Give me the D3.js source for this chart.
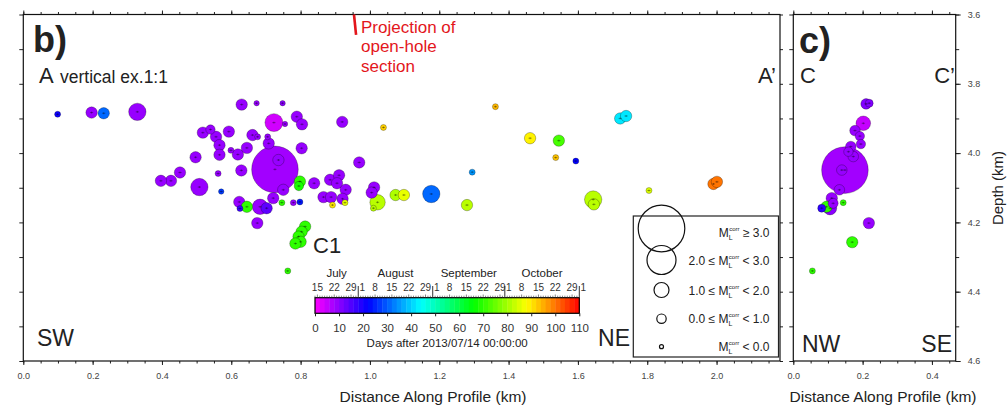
<!DOCTYPE html>
<html lang="en">
<head>
<meta charset="UTF-8">
<title>Hypocentre cross sections</title>
<script src="https://d3js.org/d3.v7.min.js"></script>
<style>
  body { margin: 0; background: #fff; }
  svg text { font-family: "Liberation Sans", Arial, sans-serif; }
  .frame { fill: none; stroke: #111; stroke-width: 1.2; }
  .axis path { display: none; }
  .axis line { stroke: #222; }
  .axis text { font-size: 9px; fill: #444; font-family: "Liberation Sans", Arial, sans-serif; }
  .cbaxis path { display: none; }
  .cbaxis line { stroke: #222; }
  .cbaxis text { font-size: 11.5px; fill: #333; font-family: "Liberation Sans", Arial, sans-serif; }
  .ev { stroke: rgba(0,0,0,0.45); stroke-width: 0.6; }
  .err { stroke: rgba(0,0,0,0.55); stroke-width: 0.6; fill: none; }
  .lbl { fill: #222; }
</style>
</head>
<body>
<svg id="chart" width="1007" height="406"></svg>
<script>
// ---- panel b) A-A' profile: distance (km), depth (km), days since 2013/07/14, magnitude
const distB = [0.099, 0.197, 0.232, 0.329, 0.630, 0.673, 0.748, 0.723, 0.755, 0.789,
  0.804, 0.518, 0.540, 0.556, 0.566, 0.566, 0.593, 0.599, 0.619, 0.645,
  0.661, 0.676, 0.705, 0.708, 0.497, 0.629, 0.562, 0.452, 0.426, 0.397,
  0.508, 0.571, 0.726, 0.736, 0.750, 0.803, 0.798, 0.795, 0.839, 0.920,
  0.969, 1.039, 0.885, 0.911, 0.905, 0.930, 0.866, 0.888, 0.921, 0.892,
  0.928, 1.012, 1.005, 1.022, 1.010, 1.074, 1.098, 1.177, 1.295, 1.280,
  1.362, 1.462, 1.545, 1.536, 1.594, 1.644, 1.646, 1.722, 1.739, 1.805,
  1.991, 2.001, 0.623, 0.625, 0.645, 0.683, 0.702, 0.721, 0.746, 0.779,
  0.798, 0.675, 0.813, 0.803, 0.794, 0.800, 0.785, 0.763];
const depthB = [3.888, 3.883, 3.885, 3.881, 3.860, 3.856, 3.856, 3.912, 3.916, 3.895,
  3.917, 3.941, 3.932, 3.953, 3.977, 4.005, 3.938, 3.992, 4.004, 3.985,
  3.948, 3.953, 3.953, 3.972, 4.012, 4.050, 4.059, 4.056, 4.080, 4.080,
  4.098, 4.111, 4.047, 4.020, 4.106, 3.986, 4.082, 4.095, 4.087, 3.910,
  4.027, 3.926, 4.077, 4.064, 4.087, 4.106, 4.127, 4.127, 4.132, 4.150,
  4.143, 4.099, 4.114, 4.142, 4.159, 4.121, 4.121, 4.118, 4.055, 4.150,
  3.866, 3.957, 3.964, 4.013, 4.023, 4.134, 4.148, 3.900, 3.893, 4.108,
  4.089, 4.083, 4.141, 4.160, 4.155, 4.155, 4.159, 4.130, 4.143, 4.143,
  4.141, 4.202, 4.212, 4.227, 4.241, 4.256, 4.261, 4.340];
const daysB = [21, 9, 31, 9, 9, 9, 10, 4, 9, 9,
  9, 9, 9, 9, 9, 9, 9, 9, 9, 9,
  9, 9, 9, 9, 9, 9, 9, 9, 9, 9,
  9, 27, 8, 9, 9, 9, 70, 68, 9, 9,
  9, 92, 9, 9, 9, 9, 9, 9, 9, 90,
  86, 9, 9, 82, 82, 81, 86, 31, 35, 82,
  94, 89, 72, 93, 22, 82, 82, 42, 42, 85,
  100, 100, 9, 17, 70, 9, 14, 9, 70, 9,
  24, 9, 70, 70, 70, 70, 70, 70];
const magB = [-0.13, 0.86, 0.86, 1.67, 0.86, -0.24, -0.24, 1.71, -0.24, 0.86,
  0.86, 0.86, 0.5, 0.86, 0.86, 0.86, 0.86, -0.13, 0.86, 0.86,
  0.86, -0.13, -0.13, 0.86, 0.86, 0.86, -0.13, 0.86, 0.86, 0.86,
  1.67, -0.24, 3.3, 0.86, 0.86, 0.86, 0.86, 0.5, 0.86, 0.86,
  0.86, -0.13, 0.86, 0.86, 0.86, 0.86, 0.86, 0.86, 0.86, -0.13,
  -0.13, 0.86, 0.86, 1.53, -0.13, 0.86, 0.86, 1.67, -0.13, 0.86,
  -0.13, 0.86, 0.86, -0.13, -0.13, 1.67, 0.86, 0.86, 0.86, -0.13,
  0.86, 0.86, 0.86, -0.13, 0.86, 1.53, 0.86, 0.86, -0.13, -0.13,
  -0.13, 0.86, 0.86, 0.86, 0.86, 0.86, 0.86, -0.13];

// ---- panel c) C-C' profile
const distC = [0.210, 0.219, 0.202, 0.178, 0.192, 0.195, 0.166, 0.159, 0.173, 0.149,
  0.140, 0.133, 0.111, 0.096, 0.082, 0.106, 0.115, 0.144, 0.218, 0.170, 0.055];
const depthC = [3.858, 3.856, 3.914, 3.935, 3.951, 3.974, 3.981, 3.996, 4.010, 4.049,
  4.049, 4.106, 4.130, 4.155, 4.159, 4.159, 4.145, 4.143, 4.202, 4.257, 4.340];
const daysC = [11, 11, 5, 9, 9, 9, 9, 9, 9, 8,
  9, 9, 9, 70, 18, 10, 9, 70, 9, 70, 70];
const magC = [0.71, 0.24, 1.43, 0.71, 0.5, 0.5, 0.71, 0.5, 0.71, 3.3,
  0.71, 0.71, 0.86, 0.86, 0.24, 1.21, 0.61, -0.13, 0.86, 0.86, -0.13];

// projection of the open-hole section onto A-A'
const openHoleDist = [0.954, 0.960];
const openHoleDepth = [3.6, 3.659];

// colour bar / legend
const cbDays = [0, 110];
const cbTicks = [0, 10, 20, 30, 40, 50, 60, 70, 80, 90, 100, 110];
const monthNames = ["July", "August", "September", "October"];
const dayOfMonthLabels = [1, 8, 15, 22, 29];
const legendMags = [3.3, 2.5, 1.5, 0.5, -0.5];
const legendText = [["", " \u2265 3.0"], ["2.0 \u2264 ", " < 3.0"], ["1.0 \u2264 ", " < 2.0"],
  ["0.0 \u2264 ", " < 1.0"], ["", " < 0.0"]];

const svg = d3.select("#chart");

const y = d3.scaleLinear().domain([3.6, 4.6]).range([14.5, 361]);
const xB = d3.scaleLinear().domain([0, 2.183]).range([23.3, 780]);
const xC = d3.scaleLinear().domain([0, 0.4686]).range([793.3, 955.7]);

const rainbow = d3.scaleLinear()
  .domain([0, 22, 44, 66, 88, 110])
  .range(["#ff00ff", "#0000ff", "#00ffff", "#00ff00", "#ffff00", "#ff0000"])
  .clamp(true);
const rScale = d3.scaleLinear()
  .domain([-0.5, 0.5, 1.5, 2.5, 3.3])
  .range([2, 4.7, 7.5, 14.5, 23.3])
  .clamp(true);

const fmt = d3.format(".1f");

// clip paths
const defs = svg.append("defs");
[["clipB", xB], ["clipC", xC]].forEach(([id, x]) => {
  defs.append("clipPath").attr("id", id).append("rect")
    .attr("x", x.range()[0]).attr("y", y.range()[0])
    .attr("width", x.range()[1] - x.range()[0])
    .attr("height", y.range()[1] - y.range()[0]);
});

function addAxis(axis, tx, ty, cls = "axis") {
  return svg.append("g").attr("class", cls)
    .attr("transform", `translate(${tx},${ty})`).call(axis);
}

function panelAxes(x, xMax, labelRight) {
  const top = y.range()[0], bot = y.range()[1];
  const majX = d3.range(0, xMax + 1e-6, 0.2);
  const minX = d3.range(0, xMax + 1e-6, 0.05);
  const depthTicks = d3.range(3.6, 4.6001, 0.1);
  addAxis(d3.axisBottom(x).tickValues(majX).tickSize(4).tickPadding(8).tickFormat(fmt), 0, bot);
  addAxis(d3.axisBottom(x).tickValues(minX).tickSize(2.5).tickFormat(""), 0, bot);
  addAxis(d3.axisTop(x).tickValues(majX).tickSize(4).tickFormat(""), 0, top);
  addAxis(d3.axisTop(x).tickValues(minX).tickSize(2.5).tickFormat(""), 0, top);
  addAxis(d3.axisLeft(y).tickValues(depthTicks).tickSize(4).tickFormat(""), x.range()[0], 0);
  if (labelRight) {
    addAxis(d3.axisRight(y).tickValues(d3.range(3.6, 4.6001, 0.2)).tickSize(5).tickPadding(7).tickFormat(fmt), x.range()[1], 0);
    addAxis(d3.axisRight(y).tickValues(depthTicks).tickSize(3.5).tickFormat(""), x.range()[1], 0);
  } else {
    addAxis(d3.axisRight(y).tickValues(depthTicks).tickSize(3).tickFormat(""), x.range()[1], 0);
  }
  svg.append("rect").attr("class", "frame")
    .attr("x", x.range()[0]).attr("y", top)
    .attr("width", x.range()[1] - x.range()[0]).attr("height", bot - top);
}

function drawEvents(x, dist, depth, days, mags, clipId) {
  const ev = dist.map((d, i) => ({ x: d, z: depth[i], t: days[i], m: mags[i] }))
    .sort((a, b) => b.m - a.m);
  const g = svg.append("g").attr("clip-path", `url(#${clipId})`);
  g.selectAll("circle").data(ev).join("circle")
    .attr("class", "ev")
    .attr("cx", d => x(d.x)).attr("cy", d => y(d.z))
    .attr("r", d => rScale(d.m))
    .attr("fill", d => rainbow(d.t));
  // small location-error crosses
  g.selectAll("path").data(ev).join("path")
    .attr("class", "err")
    .attr("d", d => {
      const cx = x(d.x), cy = y(d.z);
      return `M${cx - 1.6},${cy}H${cx + 1.6}M${cx},${cy - 1}V${cy + 1}`;
    });
}

panelAxes(xB, 2.183, false);
panelAxes(xC, 0.4686, true);
drawEvents(xB, distB, depthB, daysB, magB, "clipB");
drawEvents(xC, distC, depthC, daysC, magC, "clipC");

// open-hole projection
svg.append("line")
  .attr("x1", xB(openHoleDist[0])).attr("y1", y(openHoleDepth[0]))
  .attr("x2", xB(openHoleDist[1])).attr("y2", y(openHoleDepth[1]))
  .attr("stroke", "#e3161c").attr("stroke-width", 2.6);
["Projection of", "open-hole", "section"].forEach((s, i) => {
  svg.append("text").attr("x", 361).attr("y", 33 + i * 19.4)
    .attr("fill", "#e3161c").attr("font-size", 17).text(s);
});

// panel annotations
function label(txt, x, yy, size, anchor = "start", weight = "normal") {
  return svg.append("text").attr("class", "lbl").attr("x", x).attr("y", yy)
    .attr("font-size", size).attr("text-anchor", anchor).attr("font-weight", weight).text(txt);
}
label("b)", 33, 52, 36, "start", "bold").attr("fill", "#000");
label("c)", 799, 52.5, 36, "start", "bold").attr("fill", "#000");
label("A", 39, 83, 22);
label("vertical ex.1:1", 60, 83, 17.5);
label("A\u2019", 776, 83, 22, "end");
label("SW", 37, 346, 23);
label("NE", 630, 346, 23, "end");
label("C1", 313, 253, 22);
label("C", 800, 83, 22);
label("C\u2019", 955, 83, 22, "end");
label("NW", 802, 351.5, 23);
label("SE", 952, 351.5, 23, "end");

// axis titles
label("Distance Along Profile (km)", 433, 401.5, 15.5, "middle").attr("fill", "#333");
label("Distance Along Profile (km)", 883, 401.5, 15.5, "middle").attr("fill", "#333");
svg.append("text").attr("class", "lbl")
  .attr("transform", "translate(1003,188) rotate(-90)")
  .attr("text-anchor", "middle").attr("font-size", 15).attr("fill", "#333")
  .text("Depth (km)");

// ---- colour bar
const cbX = d3.scaleLinear().domain(cbDays).range([315, 579.3]);
const cbTop = 297.7, cbH = 15.6;
svg.append("g").selectAll("rect").data(d3.range(0, 110, 2)).join("rect")
  .attr("x", d => cbX(d)).attr("y", cbTop)
  .attr("width", d => cbX(d + 2) - cbX(d) + 0.4).attr("height", cbH)
  .attr("fill", d => rainbow(d + 1));
svg.append("rect").attr("x", cbX(0)).attr("y", cbTop)
  .attr("width", cbX(110) - cbX(0)).attr("height", cbH)
  .attr("fill", "none").attr("stroke", "#000").attr("stroke-width", 1.2);
addAxis(d3.axisBottom(cbX).tickValues(cbTicks).tickSize(3).tickPadding(7.5), 0, cbTop + cbH, "cbaxis");
label("Days after 2013/07/14 00:00:00", (cbX(0) + cbX(110)) / 2, 346.5, 11.5, "middle").attr("fill", "#333");

// calendar axis on top of colour bar
const t0 = new Date(2013, 6, 14);
const cal = d3.range(0, 111).map(d => ({ d, date: d3.timeDay.offset(t0, d) }));
const calG = svg.append("g");
calG.selectAll("line").data(cal).join("line")
  .attr("x1", c => cbX(c.d)).attr("x2", c => cbX(c.d))
  .attr("y1", cbTop)
  .attr("y2", c => cbTop - (c.date.getDate() === 1 ? 11.7 : dayOfMonthLabels.includes(c.date.getDate()) ? 3.2 : 2))
  .attr("stroke", "#333").attr("stroke-width", c => c.date.getDate() === 1 ? 1 : 0.6);
calG.selectAll("text").data(cal.filter(c => dayOfMonthLabels.includes(c.date.getDate())))
  .join("text")
  .attr("x", c => c.date.getDate() === 1 ? cbX(c.d) + 1.2 : cbX(c.d))
  .attr("y", 290.7)
  .attr("text-anchor", c => c.date.getDate() === 1 ? "start" : "middle")
  .attr("font-size", 10).attr("fill", "#333")
  .text(c => c.date.getDate());
monthNames.forEach((m, i) => {
  const start = Math.max(0, d3.timeDay.count(t0, new Date(2013, 6 + i, 1)));
  const end = Math.min(110, d3.timeDay.count(t0, new Date(2013, 7 + i, 1)));
  label(m, cbX((start + end) / 2), 277, 11.5, "middle").attr("fill", "#333");
});

// ---- magnitude legend
const leg = svg.append("g");
leg.append("rect").attr("x", 633.3).attr("y", 216).attr("width", 145.2).attr("height", 141)
  .attr("fill", "#fff").attr("stroke", "#222").attr("stroke-width", 1.2);
const rowY = [228.5, 260, 290, 318.7, 346.7];
legendMags.forEach((m, i) => {
  leg.append("circle").attr("cx", 661.5).attr("cy", rowY[i]).attr("r", rScale(m))
    .attr("fill", "none").attr("stroke", "#111").attr("stroke-width", 1.2);
  const t = leg.append("text").attr("x", 769.5).attr("y", rowY[i] + (i === 0 ? 8 : 4.5))
    .attr("text-anchor", "end").attr("font-size", 12).attr("fill", "#222");
  t.append("tspan").text(legendText[i][0] + "M");
  t.append("tspan").attr("font-size", 7).attr("dy", 3).text("L");
  t.append("tspan").attr("font-size", 6).attr("dy", -9).attr("dx", -3.5).text("corr");
  t.append("tspan").attr("dy", 6).text(legendText[i][1]);
});
</script>
</body>
</html>
